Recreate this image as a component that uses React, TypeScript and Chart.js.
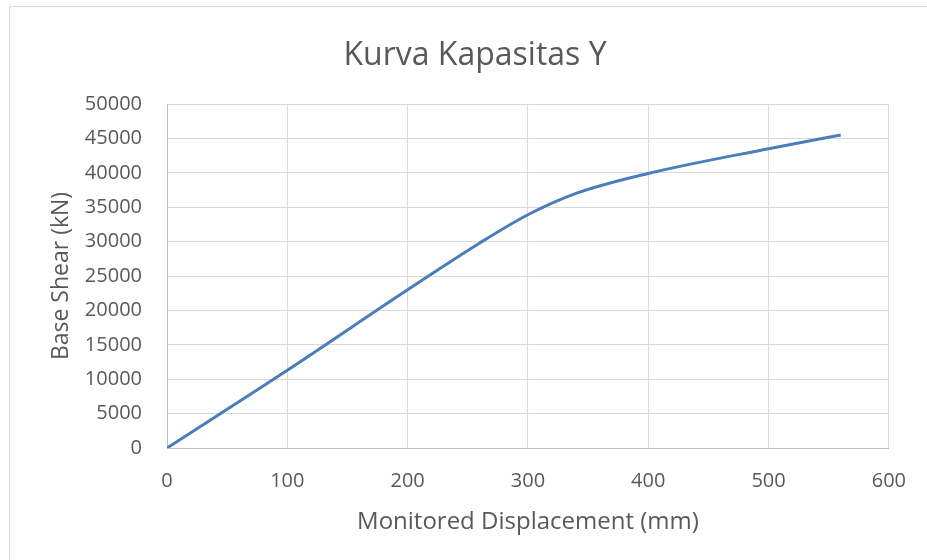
import React, { useEffect, useRef } from "react";
import { Chart, registerables } from "chart.js";

Chart.register(...registerables);

const chartTitle = "Kurva Kapasitas Y";
const xAxisTitle = "Monitored Displacement (mm)";
const yAxisTitle = "Base Shear (kN)";

const displacement = [0, 100, 200, 260, 300, 340, 400, 500, 560];
const baseShear = [0, 11300, 23000, 29800, 33900, 37000, 39900, 43500, 45500];

const FONT = "'Open Sans', 'Liberation Sans', sans-serif";
const TEXT = "#595959";

const titlePlugin = {
  id: "centeredTitle",
  afterDraw(chart: any) {
    const ctx = chart.ctx;
    ctx.save();
    ctx.fillStyle = TEXT;
    ctx.font = `32px ${FONT}`;
    ctx.textAlign = "center";
    ctx.textBaseline = "alphabetic";
    ctx.fillText(chartTitle, 475, 65);
    ctx.restore();
  },
};

export default function App() {
  const ref = useRef<HTMLCanvasElement | null>(null);

  useEffect(() => {
    document.body.style.margin = "0";
    const canvas = ref.current;
    if (!canvas) return;
    const chart = new Chart(canvas, {
      type: "line",
      data: {
        datasets: [
          {
            label: "Kurva",
            data: displacement.map((x, i) => ({ x, y: baseShear[i] })),
            borderColor: "#4a7ebb",
            borderWidth: 3,
            pointRadius: 0,
            cubicInterpolationMode: "monotone",
            fill: false,
          },
        ],
      },
      plugins: [titlePlugin],
      options: {
        responsive: false,
        animation: false,
        layout: { padding: { top: 104, left: 0, right: 36, bottom: 0 } },
        plugins: {
          legend: { display: false },
          tooltip: { enabled: false },
          title: { display: false },
        },
        scales: {
          x: {
            type: "linear",
            min: 0,
            max: 600,
            ticks: {
              stepSize: 100,
              color: TEXT,
              padding: 21,
              font: { family: FONT, size: 20 },
              callback: (v: any) => String(v),
            },
            grid: { color: "#d9d9d9", lineWidth: 1, drawTicks: false },
            border: { color: "#bfbfbf", width: 1 },
            title: {
              display: true,
              text: xAxisTitle,
              color: TEXT,
              font: { family: FONT, size: 24 },
              padding: { top: 0, bottom: 23 },
            },
            afterFit: (scale: any) => {
              scale.height = 112;
            },
          },
          y: {
            type: "linear",
            min: 0,
            max: 50000,
            ticks: {
              stepSize: 5000,
              color: TEXT,
              padding: 25,
              font: { family: FONT, size: 20 },
              callback: (v: any) => String(v),
            },
            grid: { color: "#d9d9d9", lineWidth: 1, drawTicks: false },
            border: { color: "#bfbfbf", width: 1 },
            title: {
              display: true,
              text: yAxisTitle,
              color: TEXT,
              font: { family: FONT, size: 23 },
              padding: { top: 48, bottom: 0 },
            },
            afterFit: (scale: any) => {
              scale.width = 167;
            },
          },
        },
      },
    });
    return () => chart.destroy();
  }, []);

  return (
    <div style={{ position: "relative", width: 927, height: 560, background: "#fff", overflow: "hidden" }}>
      <canvas ref={ref} width={927} height={560} style={{ display: "block" }} />
      <div
        style={{
          position: "absolute",
          left: 9,
          top: 6,
          width: 1000,
          height: 1000,
          borderLeft: "1px solid #d9d9d9",
          borderTop: "1px solid #d9d9d9",
          pointerEvents: "none",
        }}
      />
    </div>
  );
}
